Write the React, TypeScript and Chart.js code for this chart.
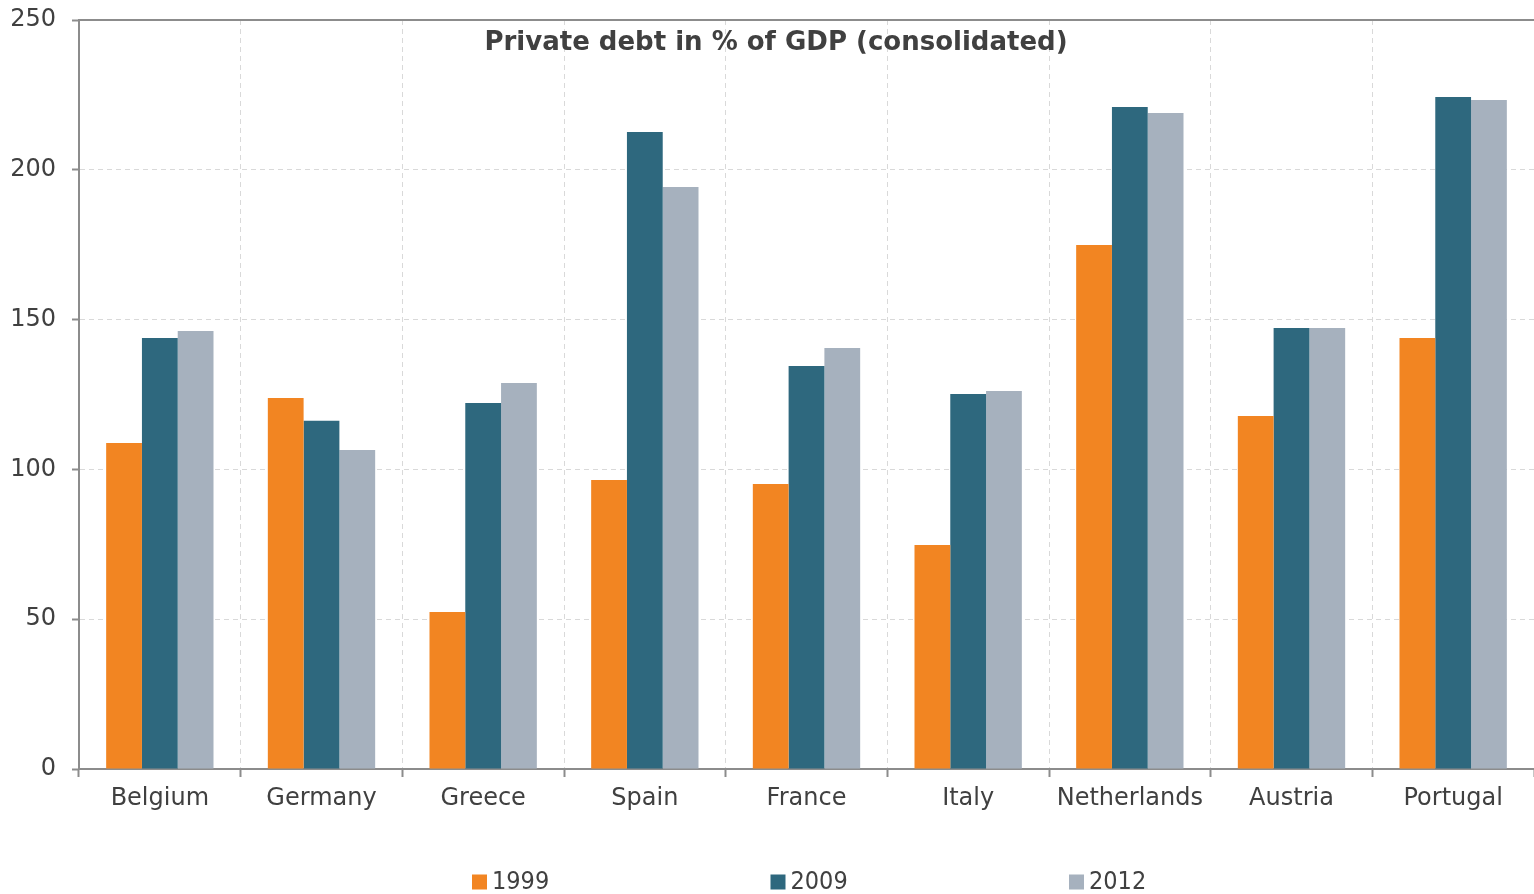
import React, { useEffect, useRef } from "react";
import { Chart, registerables } from "chart.js";

Chart.register(...registerables);

const categories = ["Belgium", "Germany", "Greece", "Spain", "France", "Italy", "Netherlands", "Austria", "Portugal"];
const seriesNames = ["1999", "2009", "2012"];
const values1999 = [108.8, 123.8, 52.4, 96.5, 95.1, 74.8, 174.9, 117.8, 143.9];
const values2009 = [143.9, 116.2, 122.2, 212.6, 134.5, 125.2, 221.0, 147.2, 224.3];
const values2012 = [146.2, 106.5, 128.8, 194.3, 140.5, 126.2, 219.0, 147.2, 223.3];
const seriesColors = ["#F28522", "#2E687E", "#A6B1BE"];
const titleText = "Private debt in % of GDP (consolidated)";

const AXIS = "#8c8c8c";
const GRID = "#d9d9d9";
const TEXT = "#404040";

const overlayPlugin = {
  id: "overlay",
  afterDraw(chart: any) {
    const { ctx, chartArea } = chart;
    ctx.save();
    // top border
    ctx.strokeStyle = AXIS;
    ctx.lineWidth = 2;
    ctx.beginPath();
    ctx.moveTo(chartArea.left - 1, chartArea.top);
    ctx.lineTo(chartArea.right, chartArea.top);
    ctx.stroke();
    // title
    ctx.fillStyle = TEXT;
    ctx.font = "bold 26px 'DejaVu Sans', sans-serif";
    ctx.textAlign = "center";
    ctx.textBaseline = "middle";
    ctx.fillText(titleText, 776, 43);
    // legend
    const pitch = 298.5;
    const box = 15;
    ctx.font = "25px 'DejaVu Sans Condensed', 'DejaVu Sans', sans-serif";
    ctx.textAlign = "left";
    ctx.textBaseline = "middle";
    const startX = 472;
    const cy = 882;
    seriesNames.forEach((name, i) => {
      const x = startX + i * pitch;
      ctx.fillStyle = seriesColors[i];
      ctx.fillRect(x, cy - box / 2, box, box);
      ctx.fillStyle = TEXT;
      ctx.fillText(name, x + box + 5, cy);
    });
    ctx.restore();
  },
};

export default function App() {
  const ref = useRef<HTMLCanvasElement | null>(null);
  useEffect(() => {
    document.body.style.margin = "0";
    const canvas = ref.current;
    if (!canvas) return;
    const chart = new Chart(canvas, {
      type: "bar",
      data: {
        labels: categories,
        datasets: [
          { label: seriesNames[0], data: values1999, backgroundColor: seriesColors[0] },
          { label: seriesNames[1], data: values2009, backgroundColor: seriesColors[1] },
          { label: seriesNames[2], data: values2012, backgroundColor: seriesColors[2] },
        ],
      },
      options: {
        animation: false,
        responsive: true,
        maintainAspectRatio: false,
        layout: { padding: { top: 20, bottom: 80, left: 0, right: 0 } },
        datasets: { bar: { categoryPercentage: 0.664, barPercentage: 1.0 } },
        plugins: {
          legend: { display: false },
          title: { display: false },
          tooltip: { enabled: false },
        },
        scales: {
          x: {
            grid: {
              offset: true,
              color: GRID,
              lineWidth: 1,
              drawTicks: true,
              tickLength: 8,
              tickColor: AXIS,
              tickWidth: 2,
              tickBorderDash: [],
            },
            border: { display: true, color: AXIS, width: 2, dash: [5, 4] },
            ticks: {
              color: TEXT,
              font: { family: "'DejaVu Sans', sans-serif", size: 24 },
              padding: 7,
              maxRotation: 0,
            },
            afterFit(scale: any) {
              scale.height = 45;
              scale.paddingLeft = 0;
              scale.paddingRight = 0;
            },
          },
          y: {
            min: 0,
            max: 250,
            ticks: {
              stepSize: 50,
              color: TEXT,
              font: { family: "'DejaVu Sans', sans-serif", size: 24 },
              padding: 16,
            },
            grid: {
              color: GRID,
              lineWidth: 1,
              drawTicks: true,
              tickLength: 7,
              tickColor: AXIS,
              tickWidth: 2,
              tickBorderDash: [],
            },
            border: { display: true, color: AXIS, width: 2, dash: [5, 4] },
            afterFit(scale: any) {
              scale.width = 79;
              scale.paddingTop = 0;
              scale.paddingBottom = 0;
            },
          },
        },
      },
      plugins: [overlayPlugin],
    });
    return () => chart.destroy();
  }, []);
  return (
    <div style={{ width: 1534, height: 894, position: "relative" }}>
      <canvas ref={ref} />
    </div>
  );
}
